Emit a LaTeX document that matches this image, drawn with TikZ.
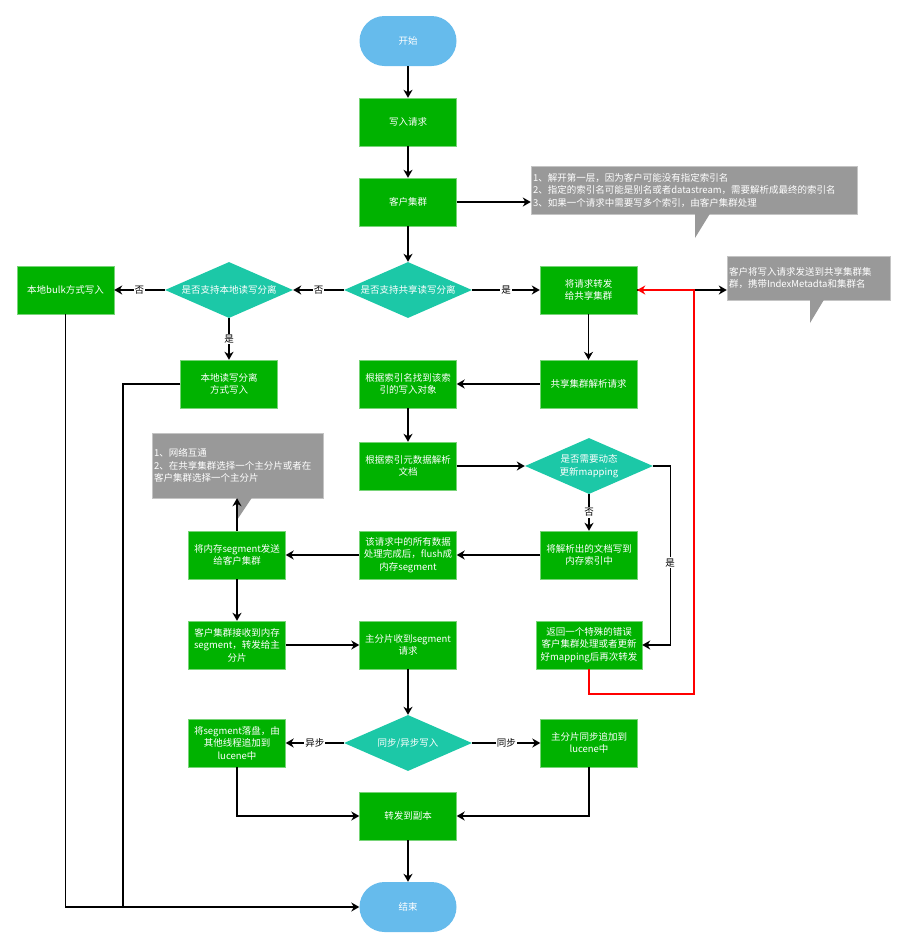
\documentclass[tikz,border=0pt]{standalone}
\usepackage{fontspec}
\setmainfont{Noto Sans CJK SC}
\usetikzlibrary{shapes.geometric,arrows.meta}
\definecolor{boxgreen}{RGB}{0,178,0}
\definecolor{boxedge}{RGB}{120,212,120}
\definecolor{askteal}{RGB}{28,200,167}
\definecolor{termblue}{RGB}{102,187,236}
\definecolor{notegray}{RGB}{153,153,153}
\definecolor{noteedge}{RGB}{196,196,196}
\begin{document}
\begin{tikzpicture}[x=1pt,y=-1pt,
    font=\fontsize{9.5}{12.5}\selectfont,
    box/.style={rectangle,fill=boxgreen,draw=boxedge,text=white,align=center,
      inner sep=1pt,minimum width=97pt,minimum height=48pt},
    ask/.style={diamond,fill=askteal,text=white,align=center,inner sep=0pt,
      aspect=2.3,minimum width=128pt,minimum height=56pt},
    term/.style={rectangle,rounded corners=25pt,fill=termblue,text=white,
      minimum width=97pt,minimum height=50pt},
    note/.style={rectangle,fill=notegray,draw=noteedge,text=white,align=left,
      inner sep=2pt,text width=#1},
    flow/.style={-{Stealth[length=8pt,width=9pt,inset=2.5pt]},line width=1.3pt},
    tag/.style={fill=white,inner sep=1pt,text=black}]
  \useasboundingbox (0,0) rectangle (908,948);
  \path
    (408,41) node[term] (start){开始}
    (408,122) node[box] (req){写入请求}
    (408,202) node[box] (client){客户集群}
    (408,290) node[ask] (d1){是否支持共享读写分离}
    (229,290) node[ask] (d2){是否支持本地读写分离}
    (65.5,290) node[box] (bulk){本地bulk方式写入}
    (229,384) node[box] (localrw){本地读写分离\\方式写入}
    (588.5,290) node[box] (fwd){将请求转发\\给共享集群}
    (588.5,384) node[box] (parse){共享集群解析请求}
    (408,384) node[box] (findidx){根据索引名找到该索\\引的写入对象}
    (408,466) node[box] (meta){根据索引元数据解析\\文档}
    (589,466) node[ask] (dyn){是否需要动态\\更新mapping}
    (589,555) node[box] (writemem){将解析出的文档写到\\内存索引中}
    (589,645) node[box,minimum width=106pt] (retry){返回一个特殊的错误\\客户集群处理或者更新\\好mapping后再次转发}
    (408,555) node[box] (flush){该请求中的所有数据\\处理完成后，flush成\\内存segment}
    (237,555) node[box] (sendseg){将内存segment发送\\给客户集群}
    (237,645) node[box] (recvseg){客户集群接收到内存\\segment，转发给主\\分片}
    (408,645) node[box] (primary){主分片收到segment\\请求}
    (408,743) node[ask] (sync){同步/异步写入}
    (237,743) node[box] (disk){将segment落盘，由\\其他线程追加到\\lucene中}
    (589,743) node[box] (append){主分片同步追加到\\lucene中}
    (408,816) node[box] (replica){转发到副本}
    (408,907) node[term] (finish){结束}
    (694,190) node[note=322pt,minimum height=48pt] (note1){1、解开第一层，因为客户可能没有指定索引名\\2、指定的索引名可能是别名或者datastream，需要解析成最终的索引名\\3、如果一个请求中需要写多个索引，由客户集群处理}
    (808.5,278) node[note=159pt,minimum height=44pt] (note2){客户将写入请求发送到共享集群集\\群，携带IndexMetadta和集群名}
    (237.5,465.5) node[note=167pt,minimum height=65pt] (note3){1、网络互通\\2、在共享集群选择一个主分片或者在\\客户集群选择一个主分片};
  \fill[notegray] (695,212) -- (695,238) -- (711,212) -- cycle;
  \fill[notegray] (810,298) -- (810,323) -- (825,298) -- cycle;
  \fill[notegray] (237,496) -- (237,520) -- (253,496) -- cycle;
  \coordinate (redbend) at (694,694);
  \coordinate (joinpt) at (123,907);
  \begin{scope}[flow]
    \draw (start) to (req);
    \draw (req) to (client);
    \draw (client) to (d1);
    \draw (client.east) to (client.east -| note1.west);
    \draw (d1) to node[tag]{否} (d2);
    \draw (d2) to node[tag]{否} (bulk);
    \draw (d2) to node[tag]{是} (localrw);
    \draw (d1) to node[tag]{是} (fwd);
    \draw (fwd.east) to (fwd.east -| note2.west);
    \draw (fwd) to (parse);
    \draw (parse) to (findidx);
    \draw (findidx) to (meta);
    \draw (meta) to (dyn);
    \draw (dyn) to node[tag]{否} (writemem);
    \draw (dyn.east) -- ++(17,0) |- node[tag,pos=0.27]{是} (retry.east);
    \draw[red] (retry.south) |- (redbend) |- (fwd.east);
    \draw (writemem) to (flush);
    \draw (flush) to (sendseg);
    \draw (sendseg.north) to (sendseg.north |- note3.south);
    \draw (sendseg) to (recvseg);
    \draw (recvseg) to (primary);
    \draw (primary) to (sync);
    \draw (sync) to node[tag]{异步} (disk);
    \draw (sync) to node[tag]{同步} (append);
    \draw (disk.south) |- (replica.west);
    \draw (append.south) |- (replica.east);
    \draw (replica) to (finish);
    \draw (bulk.south) |- (finish.west);
    \draw[-] (localrw.west) -| (joinpt);
  \end{scope}
\end{tikzpicture}
\end{document}
